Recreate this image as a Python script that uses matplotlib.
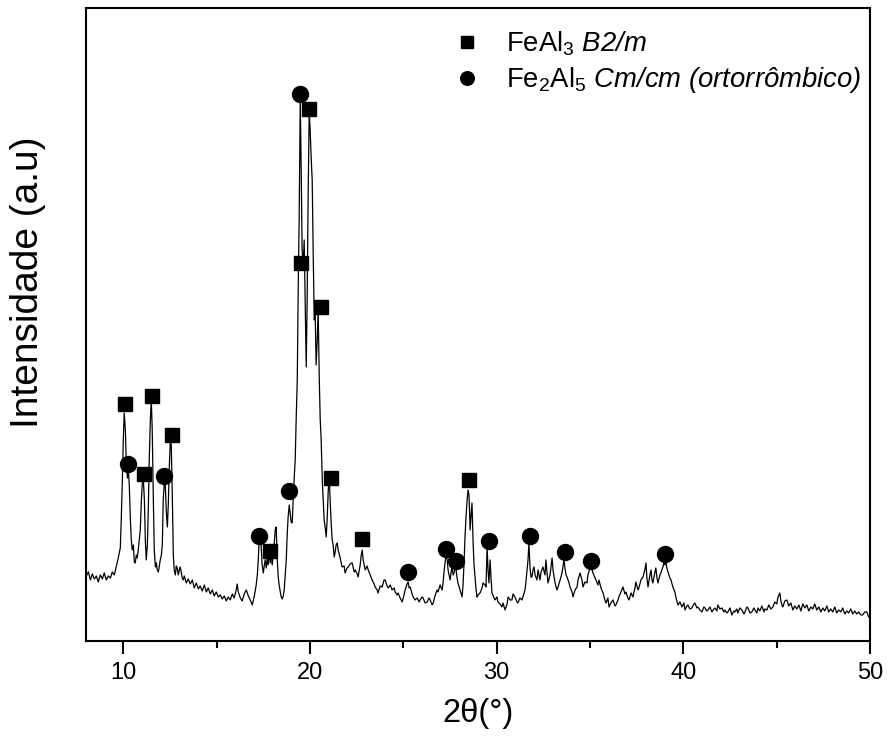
import matplotlib
matplotlib.use('Agg')
import matplotlib.pyplot as plt
from matplotlib.ticker import MultipleLocator

plt.rcParams['font.family'] = ['Liberation Sans', 'DejaVu Sans']
# legend: rm/it -> italic, sf -> upright (so digits and slashes stay italic)
plt.rcParams['mathtext.fontset'] = 'custom'
plt.rcParams['mathtext.rm'] = 'Liberation Sans:italic'
plt.rcParams['mathtext.it'] = 'Liberation Sans:italic'
plt.rcParams['mathtext.sf'] = 'Liberation Sans'

# XRD pattern (2theta in degrees, intensity in a.u.)
two_theta = [
    8.02, 8.13, 8.24, 8.34, 8.45, 8.56, 8.66, 8.77, 8.88, 8.98, 9.09, 9.20, 9.31, 9.41, 9.52, 9.63,
    9.73, 9.84, 9.89, 9.95, 10.00, 10.05, 10.11, 10.16, 10.22, 10.27, 10.32, 10.38, 10.43, 10.48,
    10.54, 10.59, 10.64, 10.70, 10.75, 10.80, 10.91, 10.97, 11.02, 11.07, 11.13, 11.18, 11.23, 11.29,
    11.34, 11.39, 11.45, 11.50, 11.55, 11.61, 11.66, 11.72, 11.77, 11.82, 11.88, 11.93, 11.98, 12.04,
    12.09, 12.14, 12.20, 12.25, 12.30, 12.36, 12.41, 12.46, 12.52, 12.57, 12.63, 12.68, 12.73, 12.79,
    12.84, 12.89, 12.95, 13.00, 13.05, 13.11, 13.16, 13.21, 13.27, 13.37, 13.48, 13.59, 13.70, 13.80,
    13.91, 14.02, 14.12, 14.23, 14.34, 14.45, 14.55, 14.66, 14.77, 14.87, 14.98, 15.09, 15.20, 15.30,
    15.41, 15.52, 15.62, 15.73, 15.84, 15.94, 16.05, 16.10, 16.16, 16.27, 16.37, 16.48, 16.59, 16.70,
    16.80, 16.91, 17.02, 17.12, 17.18, 17.23, 17.28, 17.34, 17.39, 17.44, 17.50, 17.55, 17.60, 17.66,
    17.71, 17.76, 17.82, 17.87, 17.92, 17.98, 18.03, 18.08, 18.14, 18.19, 18.25, 18.30, 18.35, 18.41,
    18.46, 18.51, 18.57, 18.62, 18.67, 18.73, 18.78, 18.83, 18.89, 18.94, 18.99, 19.05, 19.10, 19.15,
    19.21, 19.26, 19.32, 19.37, 19.42, 19.48, 19.53, 19.58, 19.64, 19.69, 19.74, 19.80, 19.85, 19.90,
    19.96, 20.01, 20.07, 20.12, 20.17, 20.23, 20.28, 20.33, 20.39, 20.44, 20.50, 20.55, 20.60, 20.66,
    20.71, 20.76, 20.82, 20.87, 20.92, 20.98, 21.03, 21.08, 21.14, 21.19, 21.24, 21.30, 21.35, 21.40,
    21.46, 21.51, 21.62, 21.72, 21.83, 21.88, 21.99, 22.05, 22.15, 22.26, 22.37, 22.42, 22.53, 22.58,
    22.69, 22.74, 22.80, 22.85, 22.96, 23.06, 23.12, 23.23, 23.33, 23.44, 23.49, 23.60, 23.65, 23.76,
    23.87, 23.97, 24.03, 24.13, 24.19, 24.30, 24.40, 24.51, 24.56, 24.67, 24.72, 24.83, 24.94, 25.04,
    25.10, 25.20, 25.26, 25.31, 25.37, 25.47, 25.53, 25.63, 25.74, 25.85, 25.90, 26.01, 26.06, 26.17,
    26.28, 26.38, 26.44, 26.54, 26.60, 26.70, 26.81, 26.86, 26.97, 27.08, 27.13, 27.18, 27.24, 27.29,
    27.35, 27.40, 27.45, 27.51, 27.56, 27.61, 27.67, 27.72, 27.77, 27.83, 27.88, 27.93, 28.04, 28.15,
    28.20, 28.26, 28.31, 28.36, 28.42, 28.47, 28.52, 28.58, 28.63, 28.68, 28.74, 28.79, 28.84, 28.90,
    28.95, 29.00, 29.11, 29.22, 29.27, 29.38, 29.43, 29.49, 29.54, 29.59, 29.65, 29.70, 29.75, 29.86,
    29.91, 30.02, 30.07, 30.18, 30.29, 30.34, 30.45, 30.56, 30.61, 30.72, 30.82, 30.88, 30.98, 31.09,
    31.14, 31.25, 31.36, 31.47, 31.52, 31.57, 31.63, 31.68, 31.73, 31.79, 31.84, 31.89, 31.95, 32.00,
    32.06, 32.16, 32.22, 32.32, 32.38, 32.48, 32.59, 32.64, 32.70, 32.75, 32.86, 32.97, 33.02, 33.13,
    33.23, 33.29, 33.40, 33.50, 33.56, 33.61, 33.66, 33.72, 33.77, 33.88, 33.93, 34.04, 34.09, 34.20,
    34.31, 34.36, 34.47, 34.57, 34.63, 34.73, 34.84, 34.89, 35.00, 35.05, 35.16, 35.27, 35.32, 35.43,
    35.48, 35.59, 35.70, 35.80, 35.86, 35.96, 36.02, 36.12, 36.23, 36.34, 36.39, 36.50, 36.55, 36.66,
    36.77, 36.87, 36.93, 37.03, 37.09, 37.20, 37.30, 37.41, 37.46, 37.57, 37.62, 37.73, 37.84, 37.94,
    38.00, 38.05, 38.11, 38.21, 38.27, 38.32, 38.37, 38.48, 38.53, 38.59, 38.64, 38.75, 38.80, 38.85,
    38.91, 38.96, 39.02, 39.07, 39.12, 39.18, 39.28, 39.34, 39.44, 39.55, 39.60, 39.71, 39.82, 39.93,
    40.03, 40.09, 40.19, 40.25, 40.35, 40.46, 40.57, 40.62, 40.73, 40.78, 40.89, 41.00, 41.10, 41.16,
    41.26, 41.32, 41.43, 41.53, 41.64, 41.69, 41.80, 41.85, 41.96, 42.07, 42.17, 42.23, 42.33, 42.39,
    42.50, 42.60, 42.71, 42.76, 42.87, 42.92, 43.03, 43.14, 43.25, 43.30, 43.41, 43.46, 43.57, 43.67,
    43.78, 43.84, 43.94, 44.00, 44.10, 44.21, 44.32, 44.37, 44.48, 44.58, 44.69, 44.80, 44.90, 45.01,
    45.06, 45.17, 45.22, 45.28, 45.33, 45.44, 45.55, 45.65, 45.76, 45.87, 45.97, 46.08, 46.19, 46.30,
    46.40, 46.51, 46.62, 46.72, 46.83, 46.94, 47.04, 47.15, 47.26, 47.37, 47.47, 47.58, 47.69, 47.79,
    47.90, 48.01, 48.11, 48.22, 48.33, 48.44, 48.54, 48.65, 48.76, 48.86, 48.97, 49.08, 49.18, 49.29,
    49.40, 49.51, 49.61, 49.72, 49.83, 49.93,
]
intensity = [
    65, 69, 61, 67, 62, 65, 59, 66, 62, 68, 61, 65, 63, 69, 66, 75,
    83, 93, 121, 161, 201, 228, 211, 179, 163, 171, 156, 121, 101, 91,
    96, 79, 78, 86, 83, 91, 111, 141, 158, 163, 141, 101, 81, 96,
    131, 181, 221, 241, 211, 141, 91, 74, 78, 71, 69, 75, 81, 86,
    96, 141, 159, 156, 131, 114, 136, 171, 201, 196, 141, 86, 71, 66,
    75, 73, 66, 71, 74, 68, 63, 61, 65, 58, 62, 57, 61, 53,
    58, 52, 55, 50, 56, 49, 53, 47, 51, 45, 49, 44, 46, 42,
    45, 40, 44, 41, 47, 43, 51, 57, 49, 43, 40, 47, 51, 45,
    41, 36, 45, 56, 66, 81, 101, 108, 93, 76, 68, 75, 81, 73,
    83, 76, 89, 78, 86, 76, 88, 96, 111, 114, 81, 64, 56, 49,
    44, 42, 45, 51, 64, 81, 106, 124, 136, 128, 119, 118, 141, 161,
    181, 221, 261, 351, 421, 541, 471, 391, 376, 401, 344, 274, 341, 441,
    529, 511, 481, 461, 391, 321, 328, 276, 301, 331, 261, 221, 201, 161,
    141, 121, 113, 104, 121, 151, 166, 141, 116, 101, 96, 84, 89, 96,
    98, 91, 83, 74, 75, 68, 73, 74, 77, 78, 69, 71, 67, 64,
    76, 85, 91, 81, 71, 75, 71, 66, 61, 57, 54, 51, 48, 55,
    54, 61, 61, 55, 53, 56, 51, 53, 49, 46, 48, 43, 39, 46,
    51, 57, 59, 53, 54, 47, 44, 41, 43, 39, 41, 44, 43, 38,
    39, 43, 41, 36, 38, 45, 51, 49, 56, 51, 58, 69, 79, 86,
    81, 71, 66, 61, 69, 74, 66, 68, 73, 71, 63, 58, 51, 44,
    56, 81, 106, 124, 141, 151, 146, 111, 126, 138, 98, 76, 64, 51,
    44, 46, 48, 53, 58, 56, 54, 94, 71, 58, 81, 63, 48, 43,
    41, 44, 39, 37, 34, 38, 31, 37, 44, 41, 41, 47, 44, 39,
    38, 43, 41, 48, 51, 59, 71, 81, 98, 73, 64, 64, 71, 74,
    66, 61, 71, 61, 69, 74, 66, 81, 69, 58, 66, 83, 71, 58,
    51, 54, 61, 68, 75, 81, 73, 66, 64, 58, 54, 49, 44, 51,
    54, 61, 68, 61, 54, 59, 58, 66, 73, 76, 68, 63, 61, 56,
    61, 53, 48, 41, 38, 43, 34, 38, 41, 35, 36, 41, 44, 49,
    54, 47, 49, 43, 41, 48, 44, 53, 59, 51, 53, 61, 64, 71,
    78, 63, 54, 66, 71, 61, 58, 69, 73, 63, 58, 66, 68, 71,
    74, 79, 76, 79, 73, 69, 63, 61, 54, 49, 44, 36, 39, 34,
    38, 31, 35, 36, 32, 33, 37, 38, 33, 34, 31, 29, 34, 33,
    30, 31, 34, 29, 32, 33, 30, 36, 32, 33, 29, 31, 28, 29,
    33, 26, 30, 29, 32, 28, 33, 31, 27, 29, 34, 33, 28, 29,
    33, 31, 28, 33, 30, 35, 29, 32, 31, 36, 32, 34, 39, 37,
    43, 48, 41, 36, 34, 40, 41, 35, 38, 31, 35, 32, 36, 30,
    37, 33, 36, 30, 34, 32, 37, 31, 34, 29, 33, 30, 35, 29,
    32, 29, 34, 28, 31, 29, 33, 27, 30, 28, 32, 27, 30, 27,
    29, 26, 26, 29, 29, 24,
]

# phase identification markers
feal3_pos = [10.11, 11.13, 11.55, 12.63, 17.87, 19.53, 19.96, 20.60, 21.14, 22.80, 28.52]
feal3_int = [237, 167, 245, 206, 90, 378, 532, 334, 163, 102, 161]
fe2al5_pos = [10.27, 12.20, 17.28, 18.89, 19.48, 25.26, 27.29, 27.83, 29.59, 31.79, 33.66, 35.05, 39.02]
fe2al5_int = [177, 165, 105, 150, 547, 69, 92, 80, 100, 105, 89, 80, 87]

fig = plt.figure(figsize=(8.88, 7.46), dpi=100)
ax = fig.add_axes([0.0968, 0.1408, 0.8829, 0.8485])

ax.plot(two_theta, intensity, color='black', linewidth=0.9)
ax.plot(feal3_pos, feal3_int, 's', color='black', markersize=10, linestyle='none',
        label=r'$\mathsf{FeAl}_\mathsf{3}\ B2/m$')
ax.plot(fe2al5_pos, fe2al5_int, 'o', color='black', markersize=11.5, linestyle='none',
        label=r'$\mathsf{Fe}_\mathsf{2}\mathsf{Al}_\mathsf{5}\ Cm/cm\ (ortorrômbico)$')

ax.set_xlim(8, 50)
ax.set_ylim(0, 633)
ax.xaxis.set_major_locator(MultipleLocator(10))
ax.xaxis.set_minor_locator(MultipleLocator(5))
ax.set_yticks([])
ax.tick_params(axis='x', which='major', direction='out', length=9, width=1.5, labelsize=17, pad=6)
ax.tick_params(axis='x', which='minor', direction='out', length=5, width=1.5)
for sp in ax.spines.values():
    sp.set_linewidth(1.5)

ax.set_xlabel('2θ(°)', fontsize=23.5, labelpad=10)
ax.set_ylabel('Intensidade (a.u)', fontsize=28)
ax.yaxis.set_label_coords(-0.051, 0.567)

ax.legend(loc='upper left', bbox_to_anchor=(0.4225, 1.005), frameon=False, fontsize=19.8,
          handlelength=1.82, handletextpad=0.5, labelspacing=0.26, markerscale=0.85)

fig.savefig('out.png', dpi=100)
